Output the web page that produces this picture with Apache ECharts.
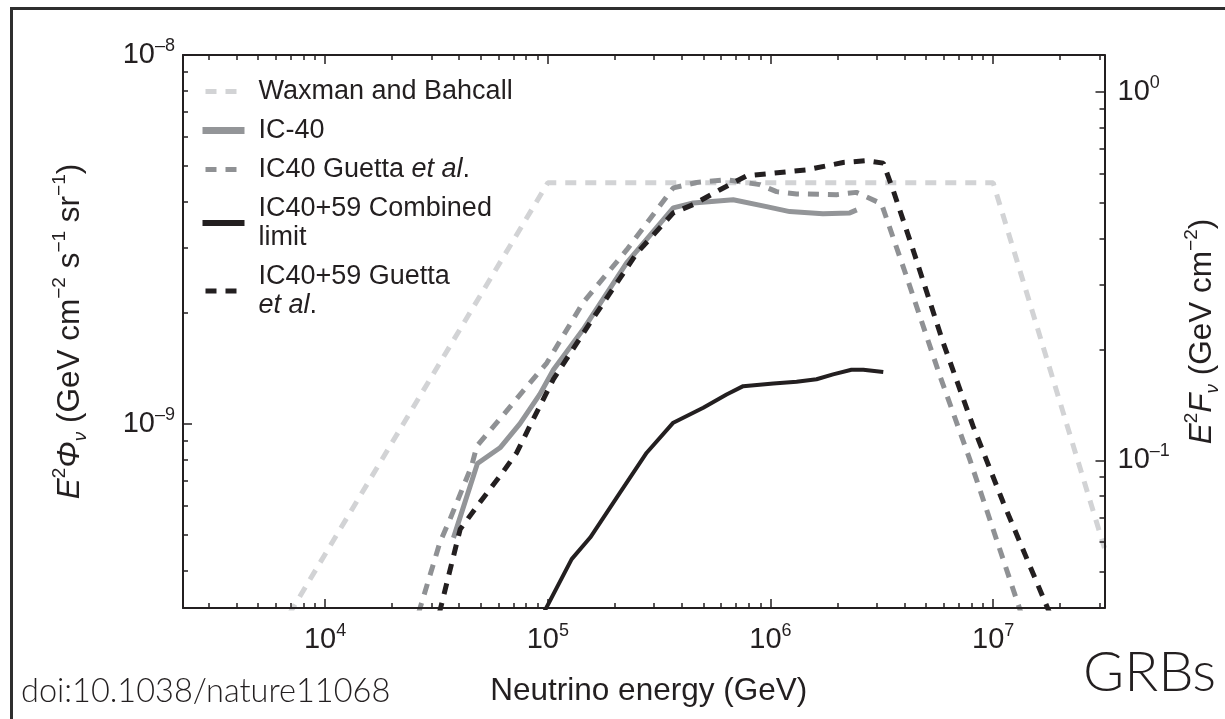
<!DOCTYPE html>
<html><head><meta charset="utf-8">
<script src="https://cdn.jsdelivr.net/npm/echarts@6/dist/echarts.min.js"></script>
<style>
html,body{margin:0;padding:0;background:#fff;overflow:hidden;}
#chart{position:absolute;left:0;top:0;width:1225px;height:719px;}
#frame{position:absolute;left:10px;top:7px;width:1400px;height:900px;border-left:3px solid #2e2e2e;border-top:3px solid #2e2e2e;pointer-events:none;}
</style></head><body>
<div id="chart"></div><div id="frame"></div>
<script>
// ---------------- data ----------------
const seriesNames = ['Waxman and Bahcall', 'IC-40', 'IC40 Guetta et al.', 'IC40+59 Combined limit', 'IC40+59 Guetta et al.'];
const legendLabels = ['Waxman and Bahcall', 'IC-40', 'IC40 Guetta {i|et al}.', 'IC40+59 Combined\nlimit', 'IC40+59 Guetta\n{i|et al}.'];

// [energy GeV, E^2 Phi (GeV cm^-2 s^-1 sr^-1)]
const waxmanBahcall = [[6.8e3, 3.0e-10], [1.0e5, 4.5e-9], [1.0e7, 4.5e-9], [3.16e7, 4.6e-10]];
const ic40 = [[3.77e4, 4.9e-10], [4.83e4, 7.8e-10], [6.1e4, 8.6e-10], [7.5e4, 1.0e-9], [9.2e4, 1.2e-9],
  [1.06e5, 1.4e-9], [1.44e5, 1.8e-9], [2.26e5, 2.73e-9], [3.66e5, 3.85e-9], [4.5e5, 3.97e-9],
  [6.8e5, 4.05e-9], [9.6e5, 3.88e-9], [1.22e6, 3.76e-9], [1.72e6, 3.71e-9], [2.27e6, 3.73e-9], [2.44e6, 3.8e-9]];
const ic40Guetta = [[2.6e4, 3.0e-10], [3.28e4, 4.77e-10], [3.64e4, 5.51e-10], [4.55e4, 7.68e-10], [4.8e4, 8.7e-10],
  [6.1e4, 1.03e-9], [8.04e4, 1.26e-9], [9.89e4, 1.46e-9], [1.44e5, 2.13e-9], [2.26e5, 2.96e-9], [3.66e5, 4.36e-9],
  [4.66e5, 4.51e-9], [6.35e5, 4.59e-9], [8.96e5, 4.45e-9], [1.065e6, 4.26e-9], [1.31e6, 4.2e-9], [1.98e6, 4.18e-9],
  [2.43e6, 4.24e-9], [3.15e6, 3.95e-9], [4.08e6, 2.51e-9], [5.76e6, 1.35e-9], [7.85e6, 8.0e-10], [1.35e7, 3.0e-10]];
const ic4059Combined = [[9.4e4, 3.0e-10], [1.28e5, 4.29e-10], [1.55e5, 4.91e-10], [2.11e5, 6.5e-10], [2.78e5, 8.34e-10],
  [3.66e5, 1.006e-9], [4.99e5, 1.105e-9], [6.35e5, 1.2e-9], [7.54e5, 1.264e-9], [1.03e6, 1.286e-9], [1.31e6, 1.3e-9],
  [1.61e6, 1.32e-9], [1.91e6, 1.36e-9], [2.31e6, 1.4e-9], [2.61e6, 1.4e-9], [3.21e6, 1.38e-9]];
const ic4059Guetta = [[3.23e4, 3.0e-10], [4.04e4, 5.17e-10], [4.96e4, 6.12e-10], [6.1e4, 7.21e-10], [7.25e4, 8.34e-10],
  [8.61e4, 1.03e-9], [1.06e5, 1.32e-9], [1.55e5, 1.88e-9], [2.51e5, 2.9e-9], [3.66e5, 3.73e-9], [4.5e5, 3.93e-9],
  [5.93e5, 4.31e-9], [7.81e5, 4.7e-9], [1.45e6, 4.88e-9], [2.12e6, 5.11e-9], [2.7e6, 5.17e-9], [3.21e6, 5.09e-9],
  [3.55e6, 4.31e-9], [4.37e6, 2.96e-9], [5.96e6, 1.66e-9], [8.12e6, 9.85e-10], [1.11e7, 6.11e-10], [1.82e7, 3.0e-10]];

// axis ranges and ticks
const xRange = [2300, 3.162e7];
const yRange = [3.162e-10, 1e-8];
const rightPerLeft = 1.257e8; // E^2 F per E^2 Phi
const rightRange = [yRange[0] * rightPerLeft, yRange[1] * rightPerLeft];
const xMajorTicks = [1e4, 1e5, 1e6, 1e7];
const xMinorTicks = [3e3, 4e3, 5e3, 6e3, 7e3, 8e3, 9e3, 2e4, 3e4, 4e4, 5e4, 6e4, 7e4, 8e4, 9e4,
  2e5, 3e5, 4e5, 5e5, 6e5, 7e5, 8e5, 9e5, 2e6, 3e6, 4e6, 5e6, 6e6, 7e6, 8e6, 9e6, 2e7, 3e7];
const yMajorTicks = [1e-9, 1e-8];
const yMinorTicks = [4e-10, 5e-10, 6e-10, 7e-10, 8e-10, 9e-10, 2e-9, 3e-9, 4e-9, 5e-9, 6e-9, 7e-9, 8e-9, 9e-9];
const rightMajorTicks = [0.1, 1];
const rightMinorTicks = [0.05, 0.06, 0.07, 0.08, 0.09, 0.2, 0.3, 0.4, 0.5, 0.6, 0.7, 0.8, 0.9];

// ---------------- styling ----------------
const FONT = "'Liberation Sans', Arial, Helvetica, sans-serif";
const INK = '#231f20';
const supRich = {
  b: { fontSize: 29, fontFamily: FONT, color: INK, lineHeight: 36 },
  s: { fontSize: 18, fontFamily: FONT, color: INK, lineHeight: 18, verticalAlign: 'top' }
};
function powLabel(v) {
  const e = Math.round(Math.log10(v));
  return '{b|10}{s|' + (e < 0 ? '\u2013' + (-e) : String(e)) + '}';
}
const titleRich = {
  r: { fontSize: 31.5, fontFamily: FONT, color: INK, lineHeight: 40 },
  it: { fontSize: 31.5, fontFamily: FONT, color: INK, fontStyle: 'italic', lineHeight: 40 },
  sup: { fontSize: 19, fontFamily: FONT, color: INK, lineHeight: 20, verticalAlign: 'top' },
  sub: { fontSize: 19, fontFamily: FONT, color: INK, fontStyle: 'italic', lineHeight: 20, verticalAlign: 'bottom' }
};
const lineAx = { show: true, lineStyle: { color: INK, width: 2 } };
const noLine = { show: false };

function axis(pos, range, ticks, major, extra) {
  const a = {
    type: 'log', logBase: 10, position: pos, min: range[0], max: range[1],
    axisLine: major ? lineAx : noLine,
    axisTick: { show: true, inside: true, length: major ? 9 : 5, customValues: ticks, lineStyle: { color: INK, width: 1.5 } },
    axisLabel: { show: false },
    splitLine: { show: false }, minorTick: { show: false }, minorSplitLine: { show: false },
    z: 5
  };
  return Object.assign(a, extra || {});
}

const chart = echarts.init(document.getElementById('chart'), null, { renderer: 'canvas' });

const seriesData = [waxmanBahcall, ic40, ic40Guetta, ic4059Combined, ic4059Guetta];
const seriesStyles = [
  { color: '#d2d3d5', width: 5, type: [11, 9] },
  { color: '#939598', width: 5, type: 'solid' },
  { color: '#8f9194', width: 5, type: [11, 9] },
  { color: INK, width: 4, type: 'solid' },
  { color: INK, width: 5, type: [11, 9] }
];
const legendWidths = [5, 7, 5, 6, 5];
const drawOrder = [0, 2, 1, 4, 3];

const series = drawOrder.map(i => ({
  name: seriesNames[i], type: 'line', data: seriesData[i], showSymbol: false, symbol: 'none',
  xAxisIndex: 0, yAxisIndex: 0, clip: true, z: 2 + i,
  lineStyle: { color: seriesStyles[i].color, width: seriesStyles[i].width, type: seriesStyles[i].type, dashOffset: 17, cap: 'butt' },
  itemStyle: { color: seriesStyles[i].color },
  emphasis: { disabled: true }
}));

const option = {
  animation: false,
  backgroundColor: '#ffffff',
  grid: { left: 183, right: 120.5, top: 55, bottom: 111, containLabel: false, outerBoundsMode: 'none' },
  title: [
    { text: 'doi:10.1038/nature11068', left: 21, top: 675, padding: 0,
      textStyle: { fontFamily: "Lato, 'Open Sans', sans-serif", fontWeight: 300, fontSize: 32.5, color: INK } },
    { text: 'GRBs', left: 1078, top: 640,
      textStyle: { fontFamily: "Lato, 'Open Sans', sans-serif", fontWeight: 300, fontSize: 56, color: INK } }
  ],
  legend: {
    orient: 'vertical', left: 199, top: 77, padding: 0, itemGap: 10, itemWidth: 42, itemHeight: 2,
    selectedMode: false,
    data: seriesNames.map((n, i) => ({ name: n, lineStyle: { width: legendWidths[i] }, itemStyle: { opacity: 0 } })),
    formatter: name => legendLabels[seriesNames.indexOf(name)],
    textStyle: { fontFamily: FONT, fontSize: 27, color: INK, lineHeight: 29, padding: [0, 0, 0, 9],
      rich: { i: { fontFamily: FONT, fontSize: 27, color: INK, fontStyle: 'italic', lineHeight: 29 } } }
  },
  xAxis: [
    axis('bottom', xRange, xMajorTicks, true, {
      axisLabel: { show: true, customValues: xMajorTicks, formatter: powLabel, rich: supRich, margin: 14 },
      name: 'Neutrino energy (GeV)', nameLocation: 'middle', nameGap: 67,
      nameTextStyle: { fontFamily: FONT, fontSize: 31.5, color: INK, padding: [0, 0, 0, 10] }
    }),
    axis('bottom', xRange, xMinorTicks, false),
    axis('top', xRange, xMajorTicks, true),
    axis('top', xRange, xMinorTicks, false)
  ],
  yAxis: [
    axis('left', yRange, yMajorTicks, true, {
      axisLabel: { show: true, customValues: yMajorTicks, formatter: powLabel, rich: supRich, margin: 8 },
      name: '{it|E}{sup|2}{it|\u03A6}{sub|\u03BD}{r| (GeV cm}{sup|\u22122}{r| s}{sup|\u22121}{r| sr}{sup|\u22121}{r|)}',
      nameLocation: 'middle', nameRotate: 90, nameGap: 93,
      nameTextStyle: { fontFamily: FONT, fontSize: 31.5, color: INK, rich: titleRich }
    }),
    axis('left', yRange, yMinorTicks, false),
    axis('right', rightRange, rightMajorTicks, true, {
      axisLabel: { show: true, customValues: rightMajorTicks, formatter: powLabel, rich: supRich, margin: 13 },
      name: '{it|E}{sup|2}{it|F}{sub|\u03BD}{r| (GeV cm}{sup|\u22122}{r|)}',
      nameLocation: 'middle', nameRotate: 90, nameGap: 78,
      nameTextStyle: { fontFamily: FONT, fontSize: 31.5, color: INK, rich: titleRich }
    }),
    axis('right', rightRange, rightMinorTicks, false)
  ],
  series: series
};
chart.setOption(option);
</script></body></html>
